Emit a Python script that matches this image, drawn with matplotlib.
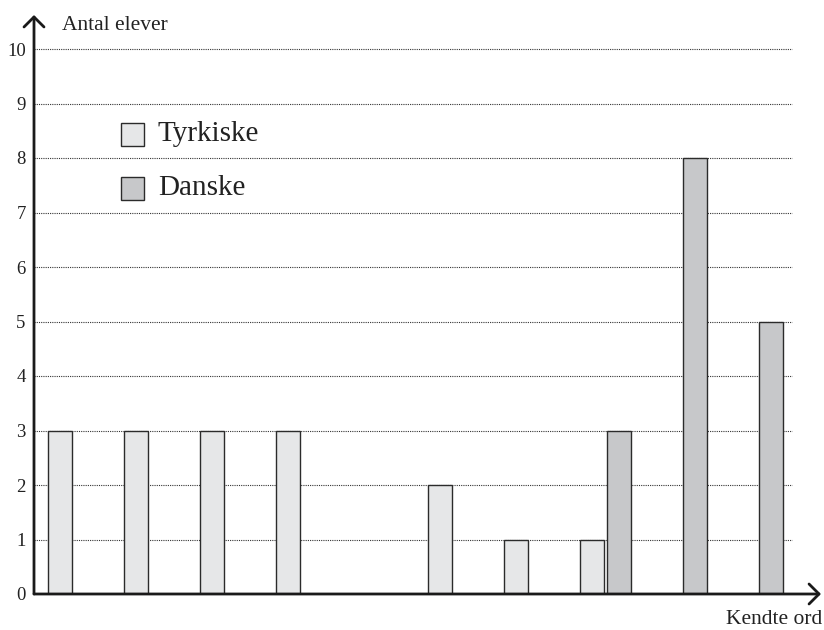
import matplotlib
matplotlib.use("Agg")
import matplotlib.pyplot as plt
from matplotlib.patches import Rectangle
import numpy as np

plt.rcParams['font.family'] = ['Liberation Serif', 'DejaVu Serif']

# data
groups = list(range(10))
tyrkiske = [3, 3, 3, 3, 0, 2, 1, 1, 0, 0]
danske = [0, 0, 0, 0, 0, 0, 0, 3, 8, 5]
yticks = list(range(0, 11))

col_t = '#e6e7e8'
col_d = '#c7c8ca'
edge = '#2b2b2b'

fig = plt.figure(figsize=(8.24, 6.30), dpi=100)
# axes spans pixel x 34..830, y 594..15
ax = fig.add_axes([34 / 824, 36 / 630, (830 - 34) / 824, (594 - 15) / 630])

px = 76.0  # pixels per group
x0 = (34 - 73.5) / px
x1 = (830 - 73.5) / px
xa = (821 - 73.5) / px
xg = (792 - 73.5) / px
ax.set_xlim(x0, x1)
ax.set_ylim(0, (594 - 15) / 54.5)

w = 24 / px
off = 13.5 / px
x = np.array(groups)

# grid lines
ax.hlines(yticks[1:], x0, xg, colors='#333333', linestyles=(0, (1, 1)),
          linewidth=0.8, zorder=1)

for xi, v in zip(x, tyrkiske):
    if v > 0:
        ax.bar(xi - off, v, width=w, color=col_t, edgecolor=edge,
               linewidth=1.0, zorder=2)
for xi, v in zip(x, danske):
    if v > 0:
        ax.bar(xi + off, v, width=w, color=col_d, edgecolor=edge,
               linewidth=1.0, zorder=2)

# axes with arrows
arrow = dict(arrowstyle='->,head_length=0.6,head_width=0.6', mutation_scale=12,
             lw=2.0, color='#1a1a1a', shrinkA=0, shrinkB=0)
ax.annotate('', xy=(xa, 0), xytext=(x0, 0), arrowprops=arrow,
            annotation_clip=False, zorder=3)
ax.annotate('', xy=(x0, ax.get_ylim()[1]), xytext=(x0, 0), arrowprops=arrow,
            annotation_clip=False, zorder=3)

for s in ax.spines.values():
    s.set_visible(False)
ax.set_xticks([])
ax.set_yticks(yticks)
ax.set_yticklabels([str(t) for t in yticks], fontsize=13.5, color='#222222')
ax.tick_params(axis='y', length=0, pad=6)

fig.text(62 / 824, 1 - 26 / 630, 'Antal elever', fontsize=15.5,
         va='center', ha='left', color='#222222')
fig.text(822 / 824, 1 - 620 / 630, 'Kendte ord', fontsize=15.5,
         va='center', ha='right', color='#222222')

# legend
for (ytop, c, lab) in [(122, col_t, 'Tyrkiske'), (176, col_d, 'Danske')]:
    fig.patches.append(Rectangle((121 / 824, 1 - (ytop + 24) / 630),
                                 23 / 824, 23 / 630, transform=fig.transFigure,
                                 facecolor=c, edgecolor=edge, linewidth=1.0))
    fig.text(158 / 824, 1 - (ytop + 12) / 630, lab, fontsize=21,
             va='center', ha='left', color='#222222')

fig.savefig('out.png', dpi=100)
